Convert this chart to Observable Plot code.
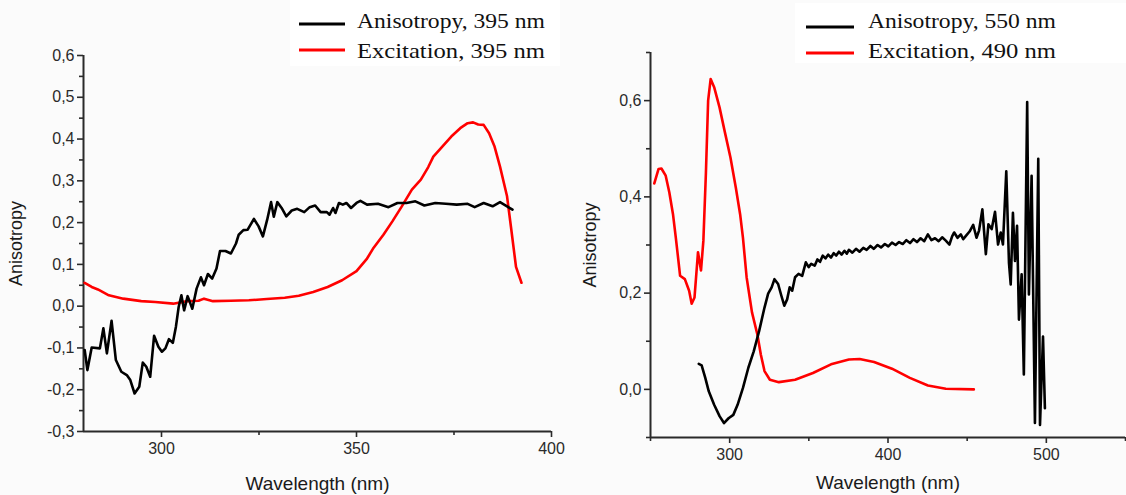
<!DOCTYPE html>
<html>
<head>
<meta charset="utf-8">
<script src="https://cdn.jsdelivr.net/npm/d3@7"></script>
<script src="https://cdn.jsdelivr.net/npm/@observablehq/plot@0.6"></script>
<style>
  body { margin: 0; background: #fbfbfb; }
  #wrap { position: relative; width: 1126px; height: 495px; overflow: hidden; background: #fbfbfb; }
  .panel { position: absolute; top: 0; }
  #legend { position: absolute; left: 0; top: 0; z-index: 5; }
</style>
</head>
<body>
<div id="wrap">
  <div class="panel" id="left" style="left:0px;width:560px"></div>
  <div class="panel" id="right" style="left:560px;width:566px"></div>
</div>
<script>
// ---------- data (wavelength nm, value) ----------
const leftAnisotropy = [
  [280.3,-0.105],[281,-0.153],[282.1,-0.099],[284.2,-0.101],[285.1,-0.053],[286,-0.113],[287.2,-0.035],
  [288.3,-0.129],[289.7,-0.157],[291.1,-0.165],[292,-0.177],[293.1,-0.209],[294.3,-0.193],[295.2,-0.135],
  [296.1,-0.145],[297.1,-0.169],[298.1,-0.071],[299.2,-0.097],[300.1,-0.109],[301,-0.101],[301.9,-0.079],
  [302.9,-0.088],[303.7,-0.049],[304.4,-0.002],[305.1,0.026],[305.8,-0.010],[306.7,0.024],[307.9,-0.006],
  [309,0.042],[310.1,0.069],[310.9,0.050],[311.9,0.077],[313,0.066],[314.1,0.090],[315,0.132],[316.4,0.132],
  [317.8,0.126],[319.1,0.150],[319.8,0.171],[321,0.182],[322.1,0.183],[323.7,0.209],[324.9,0.191],[326,0.167],
  [327.1,0.207],[328.1,0.249],[328.8,0.214],[329.7,0.249],[330.8,0.235],[332,0.215],[333.4,0.229],[334.8,0.233],
  [336.6,0.225],[338,0.237],[339.4,0.241],[340.8,0.225],[342.4,0.225],[343.1,0.219],[344,0.235],[344.6,0.223],
  [345.5,0.247],[346.5,0.243],[347.4,0.247],[348.6,0.235],[350,0.247],[351,0.252],[352.7,0.243],[355.5,0.245],
  [358.2,0.237],[360.5,0.247],[362.8,0.247],[365.1,0.251],[367.4,0.241],[370.2,0.247],[372.9,0.245],[375.7,0.243],
  [378.5,0.245],[380.3,0.237],[382.6,0.247],[384.9,0.239],[386.8,0.249],[388.6,0.239],[390,0.231]
];
const leftExcitation = [
  [280.3,0.056],[282.1,0.046],[283.7,0.040],[286.5,0.026],[290.2,0.018],[294.8,0.012],[298.4,0.010],[303,0.006],
  [306.7,0.012],[309.5,0.013],[310.9,0.018],[313.2,0.012],[317.8,0.013],[322.4,0.014],[327,0.017],[331.6,0.020],
  [335.2,0.025],[338.9,0.034],[342.6,0.046],[346.3,0.062],[350,0.084],[352.7,0.114],[354.4,0.140],[356.9,0.171],
  [359.2,0.203],[361.5,0.237],[364.2,0.279],[366.5,0.303],[368.4,0.333],[369.7,0.358],[372,0.382],[374.3,0.406],
  [376.6,0.426],[378.5,0.438],[379.9,0.440],[381.2,0.435],[382.6,0.434],[384,0.414],[385.4,0.382],[386.8,0.334],
  [388.6,0.263],[389.6,0.190],[390.9,0.094],[392.3,0.056]
];
const rightAnisotropy = [
  [280.5,0.053],[282.3,0.050],[284.6,0.024],[286.8,-0.004],[290.2,-0.032],[293.7,-0.056],[296.4,-0.070],
  [299.3,-0.060],[302.3,-0.053],[305,-0.032],[308.4,0.003],[311.8,0.045],[315.2,0.079],[318.6,0.121],[322,0.170],
  [324.3,0.199],[326.5,0.212],[328.3,0.229],[330.6,0.219],[332.7,0.194],[334.5,0.174],[336.3,0.187],[337.9,0.212],
  [339.5,0.205],[341.3,0.233],[343.5,0.240],[345.8,0.236],[348.1,0.264],[349.9,0.254],[351.5,0.261],[353.7,0.257],
  [355.4,0.270],[357.1,0.265],[358.8,0.278],[360.5,0.272],[362.2,0.280],[364,0.274],[365.7,0.283],[367.3,0.278],
  [369,0.286],[370.7,0.280],[372.5,0.288],[374,0.282],[375.3,0.290],[377.5,0.284],[379.8,0.292],[382,0.286],
  [384.4,0.294],[386.5,0.290],[388.9,0.298],[391,0.292],[393.4,0.300],[395.6,0.295],[398,0.302],[400.2,0.297],
  [402.5,0.305],[404.8,0.300],[407,0.306],[409.3,0.302],[411.6,0.310],[413.9,0.304],[416.1,0.312],[418.3,0.306],
  [420.6,0.314],[422.9,0.308],[425.2,0.322],[427.4,0.310],[429.7,0.314],[432,0.308],[434.2,0.316],[436.5,0.309],
  [438.8,0.301],[440.5,0.318],[441.8,0.326],[443.9,0.315],[446,0.322],[447.5,0.312],[449.2,0.319],[451.5,0.328],
  [453.8,0.342],[455.9,0.315],[457.5,0.330],[459.6,0.374],[461.8,0.281],[463.4,0.343],[465.5,0.333],[467.6,0.369],
  [469.5,0.301],[471.2,0.326],[472.6,0.301],[474.7,0.453],[476.4,0.263],[477.5,0.218],[478.9,0.367],[480.2,0.267],
  [481.5,0.340],[482.7,0.145],[484.4,0.239],[485.8,0.031],[487.9,0.597],[489,0.197],[490.7,0.444],[492.8,-0.070],
  [494.9,0.479],[496,-0.074],[497.9,0.110],[499.1,-0.039]
];
const rightExcitation = [
  [252.4,0.428],[255.1,0.458],[256.9,0.459],[259.6,0.444],[261.9,0.409],[264.2,0.364],[266,0.315],[268.7,0.236],
  [271.7,0.229],[274.4,0.205],[276,0.178],[277.8,0.191],[280,0.285],[281.9,0.247],[283.4,0.309],[285,0.450],
  [286.4,0.600],[288,0.645],[290.2,0.628],[293.6,0.586],[297,0.534],[300.5,0.482],[303.9,0.419],[306.6,0.364],
  [308.4,0.315],[310.7,0.233],[314.1,0.160],[317.5,0.114],[319.7,0.072],[322,0.038],[325.4,0.020],[331.1,0.015],
  [341.3,0.020],[352.6,0.034],[364,0.052],[375.3,0.062],[382.1,0.063],[391.2,0.057],[402.5,0.043],[413.8,0.024],
  [425.2,0.008],[436.5,0.0014],[454.2,0.0]
];

// ---------- ticks & labels ----------
const leftXTicks = [300, 350, 400];
const leftXMinor = [325, 375];
const leftYTicks = [-0.3, -0.2, -0.1, 0, 0.1, 0.2, 0.3, 0.4, 0.5, 0.6];
const leftYMinor = [-0.25, -0.15, -0.05, 0.05, 0.15, 0.25, 0.35, 0.45, 0.55];
const rightXTicks = [300, 400, 500];
const rightXMinor = [250, 350, 450, 550];
const rightYTicks = [0, 0.2, 0.4, 0.6];
const rightYMinor = [-0.1, 0.1, 0.3, 0.5, 0.7];
const xLabel = "Wavelength (nm)";
const yLabel = "Anisotropy";
const leftLegend = ["Anisotropy, 395 nm", "Excitation, 395 nm"];
const rightLegend = ["Anisotropy, 550 nm", "Excitation, 490 nm"];
const seriesColors = ["#000000", "#ff0000"];

const fmt = d => d.toFixed(1).replace(".", ",");
const axisColor = "#2a2a2a";

function panel({xDomain, yDomain, xTicks, xMinor, yTicks, yMinor, exc, ani, m, xLabelOffset, yLabelOffset, width}) {
  return Plot.plot({
    width, height: 495,
    marginLeft: m[0], marginRight: m[1], marginTop: m[2], marginBottom: m[3],
    style: {background: "transparent", fontFamily: "'Liberation Sans', Arial, sans-serif", color: axisColor, overflow: "visible"},
    x: {domain: xDomain},
    y: {domain: yDomain},
    marks: [
      Plot.axisX(xTicks, {tickSize: 6, tickPadding: 5, fontSize: 16, label: null, strokeWidth: 1.6, fill: "#2a2a2a"}),
      Plot.axisX(xMinor, {tickSize: 4, text: null, label: null, strokeWidth: 1.6}),
      Plot.axisX([], {label: xLabel, labelAnchor: "center", labelArrow: "none", labelOffset: xLabelOffset, fontSize: 19, fill: "#1a1a1a"}),
      Plot.axisY(yTicks, {tickSize: 6, tickPadding: 3, fontSize: 16, tickFormat: fmt, label: null, strokeWidth: 1.6, fill: "#2a2a2a"}),
      Plot.axisY(yMinor, {tickSize: 4, text: null, label: null, strokeWidth: 1.6}),
      Plot.axisY([], {label: yLabel, labelAnchor: "center", labelArrow: "none", labelOffset: yLabelOffset, fontSize: 18, fill: "#1a1a1a"}),
      Plot.ruleX([xDomain[0]], {stroke: axisColor, strokeWidth: 2}),
      Plot.ruleY([yDomain[0]], {stroke: axisColor, strokeWidth: 2}),
      Plot.line(exc, {x: d => d[0], y: d => d[1], stroke: seriesColors[1], strokeWidth: 2.6, curve: "linear"}),
      Plot.line(ani, {x: d => d[0], y: d => d[1], stroke: seriesColors[0], strokeWidth: 2.6, curve: "linear"})
    ]
  });
}

document.getElementById("left").append(panel({
  width: 560, xDomain: [280, 400], yDomain: [-0.3, 0.6],
  xTicks: leftXTicks, xMinor: leftXMinor, yTicks: leftYTicks, yMinor: leftYMinor,
  exc: leftExcitation, ani: leftAnisotropy, m: [83, 9, 55, 64], xLabelOffset: 58, yLabelOffset: 74
}));
document.getElementById("right").append(panel({
  width: 566, xDomain: [250, 550], yDomain: [-0.1, 0.7],
  xTicks: rightXTicks, xMinor: rightXMinor, yTicks: rightYTicks, yMinor: rightYMinor,
  exc: rightExcitation, ani: rightAnisotropy, m: [90, 1, 52, 58], xLabelOffset: 51, yLabelOffset: 67
}));

// ---------- legends ----------
const svg = d3.select("#wrap").append("svg").attr("id", "legend").attr("width", 1126).attr("height", 495);
function legend(box, lineX, textX, lineYs, baseYs, labels) {
  svg.append("rect").attr("x", box[0]).attr("y", box[1]).attr("width", box[2]).attr("height", box[3]).attr("fill", "#fff");
  labels.forEach((t, i) => {
    svg.append("line").attr("x1", lineX[0]).attr("x2", lineX[1]).attr("y1", lineYs[i]).attr("y2", lineYs[i])
      .attr("stroke", seriesColors[i]).attr("stroke-width", 3);
    svg.append("text").attr("x", textX).attr("y", baseYs[i]).text(t)
      .attr("font-family", "'Liberation Serif', 'DejaVu Serif', serif").attr("font-size", 21).attr("fill", "#111")
      .attr("textLength", 188).attr("lengthAdjust", "spacingAndGlyphs");
  });
}
legend([290, 0, 270, 66], [299, 345], 357, [24, 50], [28, 58], leftLegend);
legend([795, 3, 331, 60], [806, 854], 868, [27, 53], [28, 58], rightLegend);
</script>
</body>
</html>
